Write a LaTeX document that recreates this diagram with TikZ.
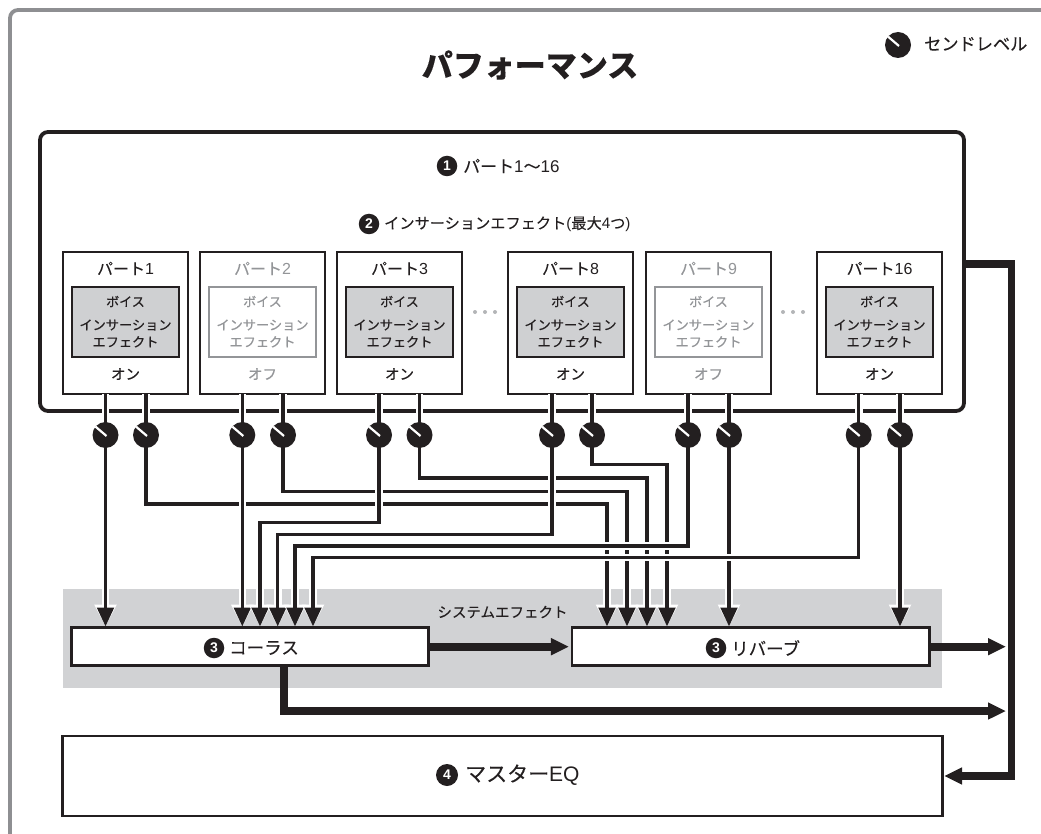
\documentclass[tikz,border=0pt]{standalone}
\usepackage{fontspec}
\setmainfont{Noto Sans CJK JP}[FakeBold=0.08]
\newfontfamily\midfont[FakeBold=0.35]{Noto Sans CJK JP}
\newfontfamily\lat{Liberation Sans}
\usetikzlibrary{arrows.meta,calc}
\definecolor{ink}{HTML}{231F20}
\definecolor{framegray}{HTML}{8E8F92}
\definecolor{bandgray}{HTML}{D1D2D4}
\definecolor{fillgray}{HTML}{CFD0D2}
\definecolor{offgray}{HTML}{939598}
\tikzset{
  framepath/.style={draw=framegray,line width=3.8pt,rounded corners=8pt},
  mainbox/.style={draw=ink,line width=3.8pt,rounded corners=8pt,fill=white,minimum width=924pt,minimum height=279pt,inner sep=0,outer sep=0},
  partbox/.style={draw=ink,line width=2.7pt,fill=white,minimum width=125pt,minimum height=142pt,inner sep=0,outer sep=0},
  innerbox/.style={line width=1.3pt,minimum width=107pt,minimum height=70pt,inner sep=0,outer sep=0},
  plainbox/.style={draw=ink,line width=2.6pt,fill=white,inner sep=0,outer sep=0},
  bandbox/.style={fill=bandgray,minimum width=879pt,minimum height=99pt,inner sep=0,outer sep=0},
  knob/.style={circle,fill=ink,minimum size=26pt,inner sep=0,outer sep=0},
  knobmark/.style={draw=white,line width=2.2pt},
  numdot/.style={circle,fill=ink,text=white,minimum size=20.5pt,inner sep=0,font=\lat\bfseries\fontsize{14}{14}\selectfont},
  wire/.style={draw=ink,line width=3.5pt,-{Triangle[length=19pt,width=16.5pt]},
    preaction={draw=white,line width=7.6pt,-{Triangle[length=22pt,width=21pt]}}},
  stub/.style={draw=ink,line width=3.5pt,preaction={draw=white,line width=7.6pt}},
  bigwire/.style={draw=ink,line width=7.6pt,-{Triangle[length=18pt,width=16pt]}},
  lab/.style={inner sep=0,text=ink},
  dotmark/.style={fill=offgray!70},
}
\newcommand{\partblock}[6]{% name, center x, label, onoff, text colour, inner style
  \node[partbox] (p#1) at (#2,323) {};
  \node[innerbox,#6] (b#1) at (#2,322) {};
  \node[lab,text=#5,font=\fontsize{16}{16}\selectfont] (t#1) at (#2,268.5) {#3};
  \node[lab,text=#5,font=\midfont\fontsize{13}{13}\selectfont] (v#1) at (#2,301.5) {ボイス};
  \node[lab,text=#5,font=\midfont\fontsize{13.2}{17}\selectfont,align=center] (i#1) at (#2,333.5) {インサーション\\エフェクト};
  \node[lab,text=#5,font=\midfont\fontsize{14.5}{14.5}\selectfont] (o#1) at (#2,374) {#4};
}
\newcommand{\knobat}[3]{%
  \node[knob] (#1) at (#2,#3) {};
  \draw[knobmark] (#1.140) -- ([shift={(1,1)}]#1.center);
}
\begin{document}
\begin{tikzpicture}[x=1pt,y=-1pt]
\useasboundingbox (0,0) rectangle (1041,834);
\fill[white] (0,0) rectangle (1041,834);
% outer frame
\coordinate (fa) at (10,834);
\coordinate (fb) at (10,10);
\coordinate (fc) at (1041,10);
\draw[framepath] (fa) -- (fb) -- (fc);
% title and legend
\node[lab,font=\bfseries\fontsize{31}{31}\selectfont] (title) at (530,65) {パフォーマンス};
\node[lab,anchor=west,font=\fontsize{17.2}{17}\selectfont] (legend) at (924,44) {センドレベル};
% main box
\node[mainbox] (main) at (502,271.5) {};
\node[numdot] (n1) at (447,166) {1};
\node[lab,anchor=west,font=\fontsize{17}{17}\selectfont] (n1t) at (463,166) {パート{\lat 1}〜{\lat 16}};
\node[numdot] (n2) at (369,224) {2};
\node[lab,anchor=west,font=\fontsize{15.2}{16}\selectfont] (n2t) at (384,224) {インサーションエフェクト{\lat (}最大{\lat 4}つ{\lat )}};
% parts
\partblock{1}{125.5}{パート{\lat 1}}{オン}{ink}{draw=ink,fill=fillgray}
\partblock{2}{262.5}{パート{\lat 2}}{オフ}{offgray}{draw=offgray,fill=white}
\partblock{3}{399.5}{パート{\lat 3}}{オン}{ink}{draw=ink,fill=fillgray}
\partblock{8}{570.5}{パート{\lat 8}}{オン}{ink}{draw=ink,fill=fillgray}
\partblock{9}{708.5}{パート{\lat 9}}{オフ}{offgray}{draw=offgray,fill=white}
\partblock{16}{879.5}{パート{\lat 16}}{オン}{ink}{draw=ink,fill=fillgray}
% ellipsis dots
\foreach \dx in {475,485,495,783,793,803}{\fill[dotmark] (\dx,312) circle (2pt);}
% system effect band and boxes
\node[bandbox] (band) at (502.5,638.5) {};
\node[lab,font=\fontsize{14.5}{15}\selectfont] (sys) at (502.5,612) {システムエフェクト};
\node[plainbox,minimum width=357pt,minimum height=38pt] (chorus) at (250,646.7) {};
\node[plainbox,minimum width=357.5pt,minimum height=38pt] (reverb) at (750.7,646.7) {};
\node[numdot] (n3a) at (214,648) {3};
\node[lab,anchor=west,font=\fontsize{17.5}{18}\selectfont] (n3at) at (229,648) {コーラス};
\node[numdot] (n3b) at (716,648) {3};
\node[lab,anchor=west,font=\fontsize{17.5}{18}\selectfont] (n3bt) at (731,648) {リバーブ};
\node[plainbox,line width=2.2pt,minimum width=880pt,minimum height=80pt] (eq) at (502.5,776) {};
\node[numdot,minimum size=22pt] (n4) at (447,775) {4};
\node[lab,anchor=west,font=\fontsize{21}{21}\selectfont] (n4t) at (465,775) {マスター{\lat EQ}};
% knob positions
\coordinate (k1ap) at (105.5,435); \coordinate (k1bp) at (146,435);
\coordinate (k2ap) at (242.3,435); \coordinate (k2bp) at (283,435);
\coordinate (k3ap) at (379,435);   \coordinate (k3bp) at (419.5,435);
\coordinate (k8ap) at (552,435);   \coordinate (k8bp) at (592,435);
\coordinate (k9ap) at (688,435);   \coordinate (k9bp) at (729,435);
\coordinate (k16ap) at (858.7,435); \coordinate (k16bp) at (900,435);
% arrow targets
\coordinate (ca) at (105.5,626.5); \coordinate (cb) at (242.3,626.5); \coordinate (cc) at (260,626.5);
\coordinate (cd) at (277.7,626.5); \coordinate (ce) at (295,626.5);   \coordinate (cf) at (313,626.5);
\coordinate (ra) at (607,626.5); \coordinate (rb) at (627,626.5); \coordinate (rc) at (647,626.5);
\coordinate (rd) at (667,626.5); \coordinate (re) at (729,626.5); \coordinate (rf) at (900,626.5);
% lane corners
\coordinate (ma) at (607,504);   \coordinate (mb) at (627,491.6);
\coordinate (mc) at (647,478);   \coordinate (md) at (667,464.5);
\coordinate (mf) at (260,522.7); \coordinate (mg) at (277.7,534.3);
\coordinate (mh) at (295,546);   \coordinate (mi) at (313,557.3);
% stubs from the part boxes to the knobs
\foreach \p/\k in {1/k1a,1/k1b,2/k2a,2/k2b,3/k3a,3/k3b,8/k8a,8/k8b,9/k9a,9/k9b,16/k16a,16/k16b}{
  \draw[stub] (\k p |- p\p.south) -- (\k p);
}
% wires to the reverb, under the others
\draw[wire] (k1bp) |- (ma) -- (ra);
\draw[wire] (k2bp) |- (mb) -- (rb);
\draw[wire] (k3bp) |- (mc) -- (rc);
\draw[wire] (k8bp) |- (md) -- (rd);
\draw[wire] (k9bp) -- (re);
\draw[wire] (k16bp) -- (rf);
% wires to the chorus
\draw[wire] (k1ap) -- (ca);
\draw[wire] (k2ap) -- (cb);
\draw[wire] (k3ap) |- (mf) -- (cc);
\draw[wire] (k8ap) |- (mg) -- (cd);
\draw[wire] (k9ap) |- (mh) -- (ce);
\draw[wire] (k16ap) |- (mi) -- (cf);
% knobs
\knobat{k1a}{105.5}{435}\knobat{k1b}{146}{435}
\knobat{k2a}{242.3}{435}\knobat{k2b}{283}{435}
\knobat{k3a}{379}{435}\knobat{k3b}{419.5}{435}
\knobat{k8a}{552}{435}\knobat{k8b}{592}{435}
\knobat{k9a}{688}{435}\knobat{k9b}{729}{435}
\knobat{k16a}{858.7}{435}\knobat{k16b}{900}{435}
\knobat{klegend}{898}{45}
% thick lines
\coordinate (bt) at (1011.5,264);
\coordinate (bb) at (1011.5,776);
\coordinate (ta) at (1006,646.7);
\coordinate (tb) at (1006,711);
\coordinate (tc) at (283.7,711);
\coordinate (td) at (283.7,646.7);
\draw[bigwire,shorten >=3pt] (chorus.east) -- (reverb.west);
\draw[bigwire] (reverb.east) -- (ta);
\draw[bigwire] (td |- chorus.south) -- (tc) -- (tb);
\draw[bigwire,shorten >=1.5pt] (main.east |- bt) -- (bt) -- (bb) -- (eq.east);
\end{tikzpicture}
\end{document}
